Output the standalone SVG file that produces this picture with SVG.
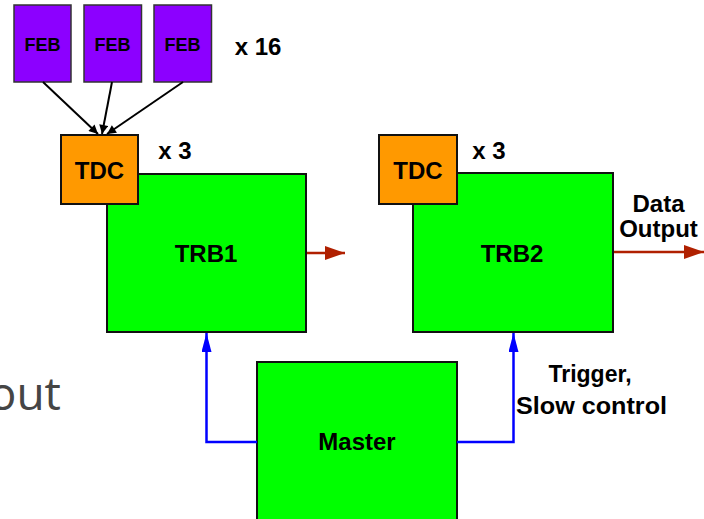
<svg xmlns="http://www.w3.org/2000/svg" width="704" height="519" viewBox="0 0 704 519">
  <defs>
    <style>
      .lbl { font-family: "Liberation Sans", Arial, sans-serif; font-weight: bold; fill: #000; text-anchor: middle; }
      .feb { fill: #8C00FF; stroke: #333; stroke-width: 1.5; }
      .tdc { fill: #FF9900; stroke: #111; stroke-width: 2; }
      .board { fill: #00FF00; stroke: #111; stroke-width: 2; }
      .data { stroke: #B02000; stroke-width: 2.5; fill: none; }
      .ctrl { stroke: #0000FF; stroke-width: 2.5; fill: none; }
      .sig { stroke: #000; stroke-width: 2; fill: none; }
    </style>
    <marker id="ah-black" viewBox="0 0 10 10" refX="10" refY="5" markerWidth="10" markerHeight="9" markerUnits="userSpaceOnUse" orient="auto">
      <path d="M0,0 L10,5 L0,10 Z" fill="#000"/>
    </marker>
    <marker id="ah-red" viewBox="0 0 20 14" refX="20" refY="7" markerWidth="20" markerHeight="14" markerUnits="userSpaceOnUse" orient="auto">
      <path d="M0,0 L20,7 L0,14 Z" fill="#B02000"/>
    </marker>
    <marker id="ah-blue" viewBox="0 0 19 10" refX="19" refY="5" markerWidth="19" markerHeight="10" markerUnits="userSpaceOnUse" orient="auto">
      <path d="M0,0 L19,5 L0,10 Z" fill="#0000FF"/>
    </marker>
  </defs>

  <!-- leftover slide heading fragment, running off the left edge -->
  <text x="61" y="410" font-family="'Open Sans', sans-serif" font-size="46" fill="#454545" text-anchor="end">out</text>

  <!-- front-end boards -->
  <g id="feb1"><rect class="feb" x="14" y="5" width="57" height="77"/><text class="lbl" x="42.5" y="51" font-size="18">FEB</text></g>
  <g id="feb2"><rect class="feb" x="84" y="5" width="57.5" height="77"/><text class="lbl" x="112.5" y="51" font-size="18">FEB</text></g>
  <g id="feb3"><rect class="feb" x="154" y="5" width="57.5" height="77"/><text class="lbl" x="182.5" y="51" font-size="18">FEB</text></g>
  <g id="feb-count"><text class="lbl" x="258" y="55" font-size="24">x 16</text></g>

  <!-- readout boards -->
  <g id="trb1"><rect class="board" x="107" y="174" width="199" height="158"/><text class="lbl" x="206" y="262" font-size="24">TRB1</text></g>
  <g id="tdc1"><rect class="tdc" x="61" y="135" width="77" height="69"/><text class="lbl" x="99.5" y="179" font-size="24">TDC</text></g>
  <g id="tdc1-count"><text class="lbl" x="175" y="159" font-size="24">x 3</text></g>

  <g id="trb2"><rect class="board" x="413" y="173" width="200" height="159"/><text class="lbl" x="512" y="262" font-size="24">TRB2</text></g>
  <g id="tdc2"><rect class="tdc" x="379" y="135" width="78" height="69"/><text class="lbl" x="418" y="179" font-size="24">TDC</text></g>
  <g id="tdc2-count"><text class="lbl" x="489" y="159" font-size="24">x 3</text></g>

  <g id="master"><rect class="board" x="257" y="362" width="200" height="170"/><text class="lbl" x="357" y="450" font-size="24">Master</text></g>

  <!-- connectors -->
  <g id="connectors">
    <line class="sig" x1="43" y1="82" x2="98" y2="134" marker-end="url(#ah-black)"/>
    <line class="sig" x1="112" y1="82" x2="102" y2="134" marker-end="url(#ah-black)"/>
    <line class="sig" x1="183" y1="82" x2="107" y2="134" marker-end="url(#ah-black)"/>
    <line class="data" x1="307" y1="253" x2="345" y2="253" marker-end="url(#ah-red)"/>
    <line class="data" x1="614" y1="252" x2="704" y2="252" marker-end="url(#ah-red)"/>
    <path class="ctrl" d="M257,442 H206.5 V333" marker-end="url(#ah-blue)"/>
    <path class="ctrl" d="M457,442 H513.5 V333" marker-end="url(#ah-blue)"/>
  </g>

  <!-- connector labels -->
  <g id="labels">
    <text class="lbl" x="658.5" y="212" font-size="24">Data</text>
    <text class="lbl" x="658.5" y="237" font-size="24">Output</text>
    <text class="lbl" x="590" y="382" font-size="23">Trigger,</text>
    <text class="lbl" x="591.5" y="414" font-size="23" textLength="151" lengthAdjust="spacingAndGlyphs">Slow control</text>
  </g>
</svg>
